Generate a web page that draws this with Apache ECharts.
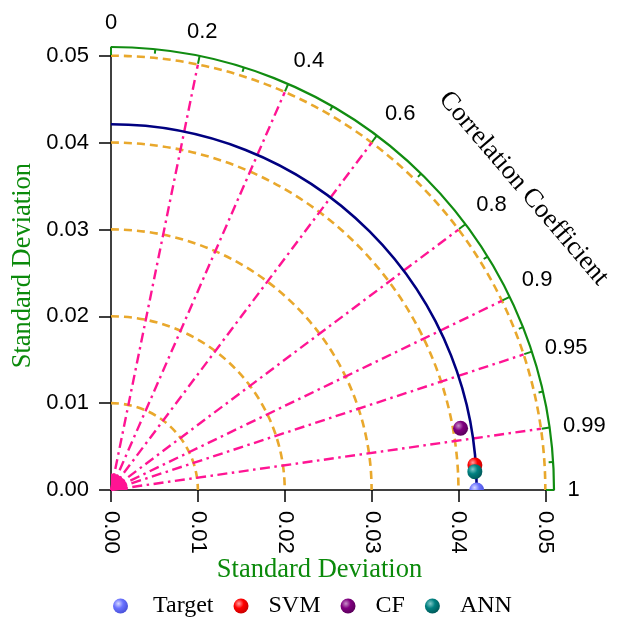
<!DOCTYPE html>
<html><head><meta charset="utf-8">
<script src="https://cdn.jsdelivr.net/npm/echarts@6/dist/echarts.min.js"></script>
<style>html,body{margin:0;padding:0;background:#fff}#c{width:622px;height:618px}</style>
</head><body><div id="c"></div>
<script>
// ---- data ----
const models = ['Target', 'SVM', 'CF', 'ANN'];
const modelStd = [0.0421, 0.04199, 0.04087, 0.04194];
const modelCorr = [1.0, 0.99765, 0.9847, 0.99873];
const modelColors = [['#d6d9ff', '#6a72ff', '#4850d8'], ['#ffa0a0', '#ff0000', '#c80000'], ['#c890c8', '#800080', '#5a005a'], ['#80c8c8', '#008080', '#005858']];
const stdTicks = [0, 0.01, 0.02, 0.03, 0.04, 0.05];
const stdCircles = [0.01, 0.02, 0.03, 0.04, 0.05];
const refStd = 0.0421;
const outerStd = 0.051;
const corrLines = [0.2, 0.4, 0.6, 0.8, 0.9, 0.95, 0.99];
const corrMajorTicks = [0, 0.2, 0.4, 0.6, 0.8, 0.9, 0.95, 0.99, 1];
const corrMinorTicks = [0.1, 0.3, 0.5, 0.7, 0.85, 0.93, 0.975, 0.998];
const corrLabels = ['0', '0.2', '0.4', '0.6', '0.8', '0.9', '0.95', '0.99', '1'];
const corrLabelValues = [0, 0.2, 0.4, 0.6, 0.8, 0.9, 0.95, 0.99, 1];
const stdTitle = 'Standard Deviation';
const corrTitle = 'Correlation Coefficient';

// ---- style ----
const SANS = 'Arial, "Liberation Sans", sans-serif';
const SERIF = '"Times New Roman", "Liberation Serif", serif';
const GREEN = '#118c11';
const PINK = '#ff1493';
function toXY(r, c) { return [r * c, r * Math.sqrt(Math.max(0, 1 - c * c))]; }
function sphere(i) {
  const c = modelColors[i];
  return new echarts.graphic.RadialGradient(0.36, 0.34, 0.7, [
    { offset: 0, color: c[0] }, { offset: 0.45, color: c[1] }, { offset: 1, color: c[2] }
  ]);
}

function arcSeries(values, stroke, width, dash, z) {
  return {
    type: 'custom', coordinateSystem: 'cartesian2d', z: z, silent: true, clip: false,
    data: values.map(v => [v, 0]),
    renderItem(params, api) {
      const r = api.value(0);
      const o = api.coord([0, 0]);
      const rp = api.coord([r, 0])[0] - o[0];
      return { type: 'arc', shape: { cx: o[0], cy: o[1], r: rp, startAngle: -Math.PI / 2, endAngle: 0, clockwise: true },
        style: { stroke: stroke, fill: null, lineWidth: width, lineDash: dash } };
    }
  };
}
function tickSeries(values, lenPx, z) {
  return {
    type: 'custom', coordinateSystem: 'cartesian2d', z: z, silent: true, clip: false,
    data: values.map(v => [v, 0]),
    renderItem(params, api) {
      const c = api.value(0);
      const th = Math.acos(c);
      const o = api.coord([0, 0]);
      const rp = api.coord([outerStd, 0])[0] - o[0];
      return { type: 'line', shape: {
          x1: o[0] + rp * Math.cos(th), y1: o[1] - rp * Math.sin(th),
          x2: o[0] + (rp - lenPx) * Math.cos(th), y2: o[1] - (rp - lenPx) * Math.sin(th) },
        style: { stroke: GREEN, lineWidth: 2 } };
    }
  };
}

const series = [
  arcSeries(stdCircles, '#e9a82c', 2.6, [8, 5], 1),
  {
    type: 'custom', coordinateSystem: 'cartesian2d', z: 2, silent: true, clip: false,
    data: corrLines.map(v => [v, 0]),
    renderItem(params, api) {
      const c = api.value(0);
      const o = api.coord([0, 0]);
      const p = api.coord(toXY(0.05, c));
      return { type: 'line', shape: { x1: o[0], y1: o[1], x2: p[0], y2: p[1] },
        style: { stroke: PINK, lineWidth: 2.4, lineDash: [10, 4.5, 2.5, 4.5] } };
    }
  },
  {
    // pink hub where the correlation rays meet
    type: 'custom', coordinateSystem: 'cartesian2d', z: 2, silent: true, clip: false,
    data: [[0.0019, 0]],
    renderItem(params, api) {
      const o = api.coord([0, 0]);
      const rp = api.coord([api.value(0), 0])[0] - o[0];
      return { type: 'sector', shape: { cx: o[0], cy: o[1], r0: 0, r: rp, startAngle: -Math.PI / 2, endAngle: 0, clockwise: true },
        style: { fill: PINK } };
    }
  },
  arcSeries([refStd], '#000080', 2.6, null, 3),
  arcSeries([outerStd], GREEN, 2.2, null, 4),
  tickSeries(corrMajorTicks, 8, 4),
  tickSeries(corrMinorTicks, 4.5, 4),
  {
    type: 'custom', coordinateSystem: 'cartesian2d', z: 5, silent: true, clip: false,
    data: corrLabelValues.map(v => [v, 0]),
    renderItem(params, api) {
      const c = api.value(0);
      const th = Math.acos(c);
      const deg = th * 180 / Math.PI;
      const t = corrLabels[params.dataIndex];
      const o = api.coord([0, 0]);
      const rp = api.coord([0.05255, 0])[0] - o[0];
      const align = deg > 72 ? 'center' : 'left';
      const valign = deg > 22 ? 'bottom' : 'middle';
      return { type: 'text', x: o[0] + rp * Math.cos(th), y: o[1] - rp * Math.sin(th),
        style: { text: t, fontSize: 22, fontFamily: SANS, fill: '#000', align: align, verticalAlign: valign } };
    }
  },
  {
    type: 'custom', coordinateSystem: 'cartesian2d', z: 5, silent: true, clip: false,
    data: [[0.0587, 0]],
    renderItem(params, api) {
      const th = 36 * Math.PI / 180;
      const p = api.coord([api.value(0) * Math.cos(th), api.value(0) * Math.sin(th)]);
      return { type: 'text', x: p[0], y: p[1] - 2, rotation: -49.4 * Math.PI / 180,
        style: { text: corrTitle, fontSize: 26.5, fontFamily: SERIF, fill: '#000', align: 'center', verticalAlign: 'middle' } };
    }
  }
];

models.forEach((m, i) => {
  series.push({
    type: 'custom', name: m, coordinateSystem: 'cartesian2d', z: 10 + i, clip: true,
    itemStyle: { color: sphere(i) },
    data: [toXY(modelStd[i], modelCorr[i])],
    renderItem(params, api) {
      const p = api.coord([api.value(0), api.value(1)]);
      return { type: 'circle', shape: { cx: p[0], cy: p[1], r: 7.5 }, style: { fill: sphere(i) } };
    }
  });
});

const axisCommon = {
  type: 'value', min: 0, max: outerStd,
  axisLine: { show: true, onZero: false, lineStyle: { color: '#000', width: 1.5 } },
  axisTick: { show: true, length: 12, customValues: stdTicks, lineStyle: { color: '#000', width: 1.5 } },
  splitLine: { show: false },
  nameLocation: 'middle',
  nameMoveOverlap: false
};

const option = {
  animation: false,
  backgroundColor: '#fff',
  grid: { left: 111, top: 47.3, width: 443, height: 442.7, outerBoundsMode: 'none', containLabel: false },
  xAxis: Object.assign({}, axisCommon, {
    axisLabel: { customValues: stdTicks, rotate: -90, margin: 21, fontSize: 22, fontFamily: SANS, color: '#000', formatter: v => v.toFixed(2) },
    name: stdTitle, nameGap: 66.5,
    nameTextStyle: { fontSize: 26.5, fontFamily: SERIF, color: '#0b8a0b', padding: [0, 26, 0, 0] }
  }),
  yAxis: Object.assign({}, axisCommon, {
    axisLabel: { customValues: stdTicks, margin: 22, fontSize: 22, fontFamily: SANS, color: '#000', formatter: v => v.toFixed(2) },
    name: stdTitle, nameGap: 74, nameRotate: 90,
    nameTextStyle: { fontSize: 26.5, fontFamily: SERIF, color: '#0b8a0b', padding: [0, 0, 0, 6] }
  }),
  legend: {
    data: models.map((m, i) => i === 0 ? { name: m, textStyle: { padding: [0, 0, 0, 5] } } : m),
    left: 113, top: 594, padding: 0, icon: 'circle',
    itemWidth: 45, itemHeight: 15, itemGap: 20,
    textStyle: { fontSize: 24, fontFamily: SERIF, color: '#000' }
  },
  series: series
};

const chart = echarts.init(document.getElementById('c'), null, { renderer: 'canvas' });
chart.setOption(option);
</script>
</body></html>
